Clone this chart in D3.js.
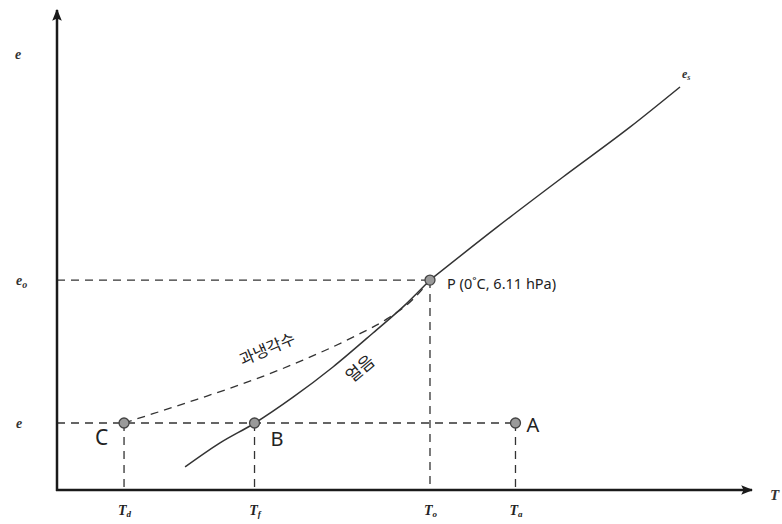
<!DOCTYPE html>
<html>
<head>
<meta charset="utf-8">
<script src="https://cdn.jsdelivr.net/npm/d3@7"></script>
<style>
  body { margin: 0; background: #fff; }
  svg { display: block; }
</style>
</head>
<body>
<svg width="782" height="524"></svg>
<script>
// temperatures (deg C, schematic) and vapour pressures (hPa, schematic)
var tempTicks = [-20.4, -11.7, 0, 5.7];
var tempNames = [["T", "d"], ["T", "f"], ["T", "o"], ["T", "a"]];
var eLevels = [1.95, 6.11];
var eNames = [["e", ""], ["e", "o"]];

// ice curve (solid, below 0) and water curve (solid, above 0)
var iceT = [-16.33, -14.0, -11.67, -9.13, -6.47, -3.8, -1.53, 0];
var iceE = [0.67, 1.37, 1.95, 2.70, 3.58, 4.57, 5.44, 6.11];
var waterT = [0, 4.47, 8.87, 13.33, 16.67];
var waterE = [6.11, 7.65, 9.11, 10.56, 11.73];
// supercooled water curve (dashed)
var superT = [-20.4, -18.47, -15.53, -11.8, -8.47, -5.13, -2.87, -1.13, 0];
var superE = [1.95, 2.22, 2.64, 3.20, 3.78, 4.45, 4.98, 5.55, 6.11];

// marked states
var pointNames = ["C", "B", "P", "A"];
var pointT = [-20.4, -11.7, 0, 5.7];
var pointE = [1.95, 1.95, 6.11, 1.95];

var svg = d3.select("svg");

var x = d3.scaleLinear().domain([-24.87, 21.47]).range([57, 752]);
var y = d3.scaleLinear().domain([0, 13.97]).range([490, 10]);

var defs = svg.append("defs");
defs.append("marker")
    .attr("id", "arrow")
    .attr("viewBox", "0 0 10 10")
    .attr("refX", 9).attr("refY", 5)
    .attr("markerWidth", 12).attr("markerHeight", 12)
    .attr("markerUnits", "userSpaceOnUse")
    .attr("orient", "auto")
  .append("path")
    .attr("d", "M0,1 L10,5 L0,9 L2,5 Z")
    .attr("fill", "#1a1a1a");

// dashed guides
var guide = svg.append("g")
    .attr("stroke", "#333")
    .attr("stroke-width", 1.3)
    .attr("stroke-dasharray", "8,6")
    .attr("fill", "none");

guide.append("line")
    .attr("x1", x.range()[0]).attr("x2", x(0))
    .attr("y1", y(eLevels[1])).attr("y2", y(eLevels[1]));
guide.append("line")
    .attr("x1", x.range()[0]).attr("x2", x(pointT[3]))
    .attr("y1", y(eLevels[0])).attr("y2", y(eLevels[0]));

guide.selectAll("line.v")
    .data(pointT)
    .enter().append("line")
    .attr("class", "v")
    .attr("x1", function(d) { return x(d); })
    .attr("x2", function(d) { return x(d); })
    .attr("y1", function(d, i) { return y(pointE[i]); })
    .attr("y2", y(0));

// curves
var line = d3.line()
    .x(function(d) { return x(d[0]); })
    .y(function(d) { return y(d[1]); })
    .curve(d3.curveMonotoneX);

function zip(a, b) { return a.map(function(v, i) { return [v, b[i]]; }); }

svg.append("path")
    .attr("d", line(zip(superT, superE)))
    .attr("fill", "none")
    .attr("stroke", "#333")
    .attr("stroke-width", 1.3)
    .attr("stroke-dasharray", "8,6");

svg.append("path")
    .attr("d", line(zip(iceT, iceE)))
    .attr("fill", "none")
    .attr("stroke", "#333")
    .attr("stroke-width", 1.5);

svg.append("path")
    .attr("d", line(zip(waterT, waterE)))
    .attr("fill", "none")
    .attr("stroke", "#333")
    .attr("stroke-width", 1.5);

// axes
var xAxis = svg.append("g")
    .attr("transform", "translate(0," + y(0) + ")")
    .call(d3.axisBottom(x).tickValues(tempTicks).tickSize(0).tickFormat(""));
xAxis.select(".domain").remove();
xAxis.append("line")
    .attr("x1", x.range()[0] - 1).attr("x2", x.range()[1])
    .attr("stroke", "#1a1a1a").attr("stroke-width", 2.5)
    .attr("marker-end", "url(#arrow)");
xAxis.selectAll(".tick text")
    .attr("y", 15)
    .attr("dy", "0.71em")
    .attr("font-family", "'Liberation Serif', serif")
    .attr("font-style", "italic")
    .attr("font-weight", "bold")
    .attr("font-size", 14)
    .attr("fill", "#222")
    .each(function(d, i) {
      var t = d3.select(this);
      t.append("tspan").text(tempNames[i][0]);
      t.append("tspan").attr("font-size", 9).attr("dy", 2).text(tempNames[i][1]);
    });

var yAxis = svg.append("g")
    .attr("transform", "translate(" + x.range()[0] + ",0)")
    .call(d3.axisLeft(y).tickValues(eLevels).tickSize(0).tickFormat(""));
yAxis.select(".domain").remove();
yAxis.append("line")
    .attr("y1", y.range()[0] + 1).attr("y2", y.range()[1])
    .attr("stroke", "#1a1a1a").attr("stroke-width", 2.5)
    .attr("marker-end", "url(#arrow)");
yAxis.selectAll(".tick text")
    .attr("x", -41)
    .attr("dy", "0.32em")
    .attr("text-anchor", "start")
    .attr("font-family", "'Liberation Serif', serif")
    .attr("font-style", "italic")
    .attr("font-weight", "bold")
    .attr("font-size", 14)
    .attr("fill", "#333")
    .each(function(d, i) {
      var t = d3.select(this);
      t.append("tspan").text(eNames[i][0]);
      t.append("tspan").attr("font-size", 10).attr("dy", 3).text(eNames[i][1]);
    });

// axis titles
var serifLabel = function(sel) {
  sel.attr("font-family", "'Liberation Serif', serif")
     .attr("font-style", "italic")
     .attr("font-weight", "bold")
     .attr("fill", "#333");
};
svg.append("text").attr("x", 15).attr("y", 59).attr("font-size", 14).call(serifLabel).text("e");
svg.append("text").attr("x", 770).attr("y", 500).attr("font-size", 15).call(serifLabel).text("T");
var es = svg.append("text").attr("x", x(16.67) + 2).attr("y", y(11.73) - 9).attr("font-size", 12).call(serifLabel);
es.append("tspan").text("e");
es.append("tspan").attr("font-size", 8).attr("dy", 2).text("s");

// state points
svg.selectAll("circle.pt")
    .data(pointT)
    .enter().append("circle")
    .attr("class", "pt")
    .attr("cx", function(d) { return x(d); })
    .attr("cy", function(d, i) { return y(pointE[i]); })
    .attr("r", 5)
    .attr("fill", "#9a9a9a")
    .attr("stroke", "#444")
    .attr("stroke-width", 1.3);

var sans = "'Noto Sans', 'Open Sans', sans-serif";
var labelOffsets = [[-29, 22], [16, 23], [17, 9], [11, 9]];
var labelSizes = [21, 20, 14.5, 20];
var labelTexts = ["C", "B", "P (0˚C, 6.11 hPa)", "A"];
svg.selectAll("text.pt")
    .data(pointNames)
    .enter().append("text")
    .attr("class", "pt")
    .attr("x", function(d, i) { return x(pointT[i]) + labelOffsets[i][0]; })
    .attr("y", function(d, i) { return y(pointE[i]) + labelOffsets[i][1]; })
    .attr("font-family", sans)
    .attr("font-size", function(d, i) { return labelSizes[i]; })
    .attr("fill", "#222")
    .text(function(d, i) { return labelTexts[i]; });

// curve labels
var kr = "'Noto Sans CJK KR', sans-serif";
svg.append("text")
    .attr("transform", "translate(" + x(-10.7) + "," + y(3.95) + ") rotate(-23)")
    .attr("text-anchor", "middle")
    .attr("font-family", kr)
    .attr("font-size", 16)
    .attr("fill", "#222")
    .text("과냉각수");
svg.append("text")
    .attr("transform", "translate(" + x(-4.4) + "," + y(3.4) + ") rotate(-40)")
    .attr("text-anchor", "middle")
    .attr("font-family", kr)
    .attr("font-size", 17)
    .attr("fill", "#222")
    .text("얼음");
</script>
</body>
</html>
